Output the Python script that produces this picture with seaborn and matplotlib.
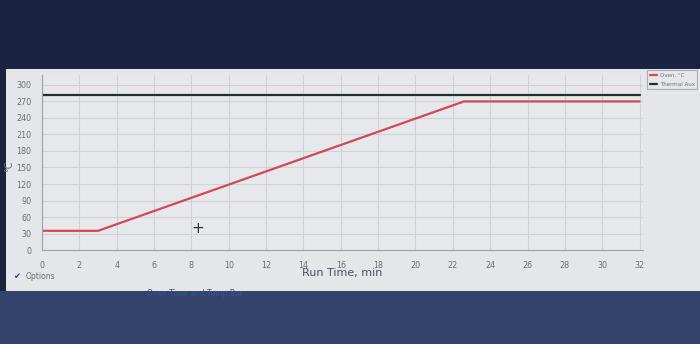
import matplotlib
matplotlib.use("Agg")
import matplotlib.pyplot as plt
import seaborn as sns
import pandas as pd
from matplotlib.patches import Rectangle

# ---- data ----
oven_time = [0, 3, 22.6, 32]
oven_temp = [35, 35, 270, 270]
aux_time = [0, 32]
aux_temp = [282, 282]
x_ticks = list(range(0, 33, 2))
y_ticks = list(range(0, 301, 30))

df = pd.concat([
    pd.DataFrame({"time": oven_time, "temp": oven_temp, "series": "Oven, °C"}),
    pd.DataFrame({"time": aux_time, "temp": aux_temp, "series": "Thermal Aux"}),
])

sns.set_theme(style="whitegrid")
plt.rcParams["font.family"] = ["DejaVu Sans"]

fig = plt.figure(figsize=(7.0, 3.44), dpi=100)
fig.patch.set_facecolor("#1a2440")

# light software window
fig.patches.append(Rectangle((0.008, 0.155), 0.992, 0.645, transform=fig.transFigure,
                             facecolor="#e4e6e9", edgecolor="none", zorder=-2))
# lower dark band (lighter blue)
fig.patches.append(Rectangle((0, 0), 1, 0.155, transform=fig.transFigure,
                             facecolor="#34436a", edgecolor="none", zorder=-2))

ax = fig.add_axes([0.06, 0.273, 0.859, 0.509])
ax.set_zorder(3)
ax.set_facecolor("#e6e8eb")

palette = {"Oven, °C": "#cf4a55", "Thermal Aux": "#243030"}
sns.lineplot(data=df, x="time", y="temp", hue="series", palette=palette,
             linewidth=1.6, ax=ax, estimator=None, sort=False)

ax.set_xlim(0, 32.2)
ax.set_ylim(0, 318)
ax.set_xticks(x_ticks)
ax.set_yticks(y_ticks)
ax.tick_params(axis="both", labelsize=5.8, colors="#6a6e74", length=2.5, pad=5)
ax.grid(True, color="#cfd3d8", linewidth=0.8)
for s in ["top", "right"]:
    ax.spines[s].set_visible(False)
for s in ["left", "bottom"]:
    ax.spines[s].set_color("#9aa0a6")
    ax.spines[s].set_linewidth(0.8)

ax.set_xlabel("Run Time, min", fontsize=8, color="#4a5060", labelpad=-1)
ax.set_ylabel("°C", fontsize=7, color="#6a6e74")
ax.yaxis.set_label_coords(-0.047, 0.48)

leg = ax.legend(loc="upper left", bbox_to_anchor=(1.004, 1.035), fontsize=4.0,
                frameon=True, fancybox=False, handlelength=1.4, borderpad=0.5,
                labelspacing=0.7, handletextpad=0.4, borderaxespad=0.2)
leg.get_frame().set_edgecolor("#9aa0a6")
leg.get_frame().set_facecolor("#e6e8eb")
leg.get_frame().set_linewidth(0.8)
for t in leg.get_texts():
    t.set_color("#6a6e74")

# cursor cross seen on the screen
fig.text(0.282, 0.337, "+", fontsize=11, color="#2a2f3a", ha="center", va="center",
         zorder=6)
fig.text(0.018, 0.195, "✔", fontsize=6, color="#33395a", va="center", zorder=5)
fig.text(0.036, 0.195, "Options", fontsize=5.5, color="#6a6e74", va="center", zorder=5)
fig.text(0.21, 0.148, "Oven Time and Temp Bar", fontsize=5.5, color="#3e4f82",
         va="center", zorder=5)

fig.savefig("out.png", dpi=100, facecolor=fig.get_facecolor())
